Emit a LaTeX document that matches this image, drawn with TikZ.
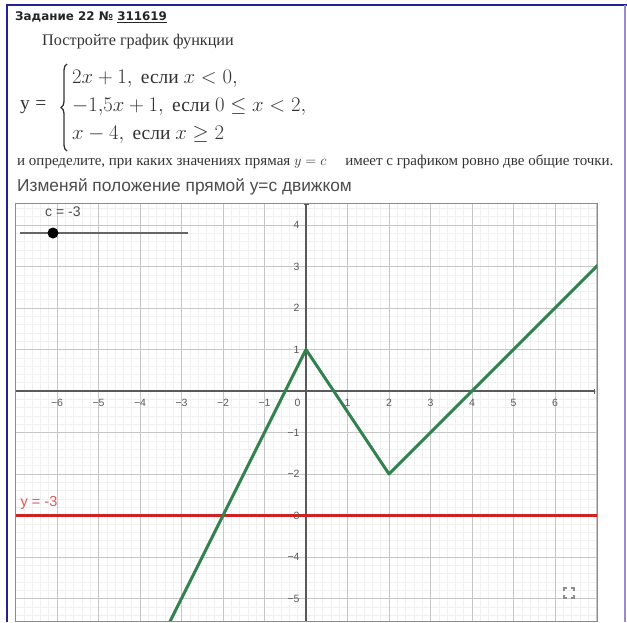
\documentclass[tikz,border=0pt]{standalone}
\usepackage{fontspec}
\setmainfont{Liberation Serif}
\setsansfont{Liberation Sans}
\newfontfamily\hdrfont{DejaVu Sans}
\usepackage{amsmath}
\usetikzlibrary{arrows.meta, positioning, decorations.pathreplacing}
\definecolor{ggbgreen}{RGB}{50,130,80}
\definecolor{ggbred}{RGB}{205,35,35}
\definecolor{frameblue}{RGB}{35,35,150}
\definecolor{framelila}{RGB}{150,140,210}
\definecolor{axisgray}{RGB}{90,90,90}
\newcommand{\ticklab}[1]{\ifnum#1<0 \char"2212\relax\number\numexpr-#1\relax\else#1\fi}

\begin{document}
\begin{tikzpicture}[
    x=1pt, y=-1pt,
    every node/.style={inner sep=0pt},
    hdr/.style   ={anchor=west, text=black!85, font=\hdrfont\bfseries\fontsize{11.9}{14}\selectfont},
    task/.style  ={anchor=west, text=black!80, font=\fontsize{16.2}{18}\selectfont},
    formula/.style={anchor=west, text=black!80, font=\fontsize{19.5}{23}\selectfont},
    small/.style ={anchor=west, text=black!80, font=\fontsize{15}{17}\selectfont},
    hint/.style  ={anchor=west, text=black!70, font=\sffamily\fontsize{17.3}{20}\selectfont},
    tick/.style  ={text=axisgray, font=\sffamily\fontsize{10.5}{12}\selectfont},
    minor/.style ={draw=black!6, line width=0.5pt},
    major/.style ={draw=black!22, line width=0.8pt},
    axis/.style  ={draw=axisgray, line width=1.1pt},
    graph/.style ={draw=ggbgreen, line width=3pt, line join=round},
    cline/.style ={draw=ggbred, line width=2.6pt},
    curly/.style ={draw=black!80, line width=1.3pt, decorate,
                   decoration={brace, amplitude=6pt, aspect=0.5}},
]
\useasboundingbox (0,0) rectangle (627,622);
\fill[white] (0,0) rectangle (627,622);

% outer frame
\draw[frameblue, line width=2pt] (7,5) -- (627,5);
\draw[frameblue, line width=2pt] (7,4) -- (7,622);
\draw[framelila, line width=1.5pt] (625,5) -- (625,622);

% task text
\node[hdr]  (title) at (15,17) {Задание 22 № \underline{311619}};
\node[task] (ask)   at (42,42) {Постройте график функции};
\node[formula] (yeq)   at (20,107) {y\;=};
\coordinate (br-bot) at (67,151);
\coordinate (br-top) at (67,64);
\draw[curly] (br-bot) -- (br-top);
\node[formula] (case1) at (72,79)  {$2x+1,\ \text{если } x<0,$};
\node[formula] (case2) at (72,107) {$-1{,}5x+1,\ \text{если } 0\le x<2,$};
\node[formula] (case3) at (72,135) {$x-4,\ \text{если } x\ge 2$};
\node[small] (rule)  at (17,162) {и определите, при каких значениях прямая $y=c$\quad\ имеет с графиком ровно две общие точки.};
\node[hint]  (hint)  at (17,187) {Изменяй положение прямой y=c движком};

% graphics view
\begin{scope}[shift={(306pt,-391pt)}, x=41.5pt, y=41.5pt]
  \fill[white] (-7.01,-5.54) rectangle (7.01,4.53);
  \begin{scope}
    \clip (-7.01,-5.54) rectangle (7.01,4.53);
    \draw[minor] (-7.2,-5.6) grid[step=0.2] (7.2,4.6);
    \draw[major] (-7.2,-5.6) grid[step=1] (7.2,4.6);
    \draw[axis, -{Bar[width=5pt]}] (-7.1,0) -- (6.97,0);
    \draw[axis, -{Bar[width=5pt]}] (0,-5.6) -- (0,4.5);
    \draw[cline] (-7.1,-3) -- (7.1,-3);
    \draw[graph] (-3.3,-5.6) -- (0,1) -- (2,-2) -- (7.1,3.1);
  \end{scope}
  \draw[black!45, line width=0.8pt] (-7.01,-5.54) rectangle (7.01,4.53);
  \foreach \i in {-6,...,-1,1,2,...,6}
    \node[tick, anchor=north] (x\i) at (\i,-0.2) {\ticklab{\i}};
  \foreach \j in {-5,...,-1,1,2,3,4}
    \node[tick, anchor=east] (y\j) at (-0.15,\j) {\ticklab{\j}};
  \node[tick, anchor=north east] (orig) at (-0.13,-0.2) {0};
  \node[anchor=south west, text=ggbred!75, font=\sffamily\fontsize{14.5}{16}\selectfont]
       (clab) at (-6.88,-2.86) {y = -3};
\end{scope}

% slider
\coordinate (sl-a) at (20,233);
\coordinate (sl-b) at (188,233);
\draw[black!60, line width=2pt] (sl-a) -- (sl-b);
\node[circle, fill=black, minimum size=11pt] (knob) at (53,233) {};
\node[anchor=west, text=black!70, font=\sffamily\fontsize{14}{16}\selectfont] (cval) at (45,212) {c = -3};

% fullscreen icon
\begin{scope}[shift={(569pt,-593pt)}, black!45, line width=1.2pt]
  \draw (-5,-2) -- (-5,-5) -- (-2,-5);
  \draw (2,-5) -- (5,-5) -- (5,-2);
  \draw (-5,2) -- (-5,5) -- (-2,5);
  \draw (2,5) -- (5,5) -- (5,2);
\end{scope}
\end{tikzpicture}
\end{document}
